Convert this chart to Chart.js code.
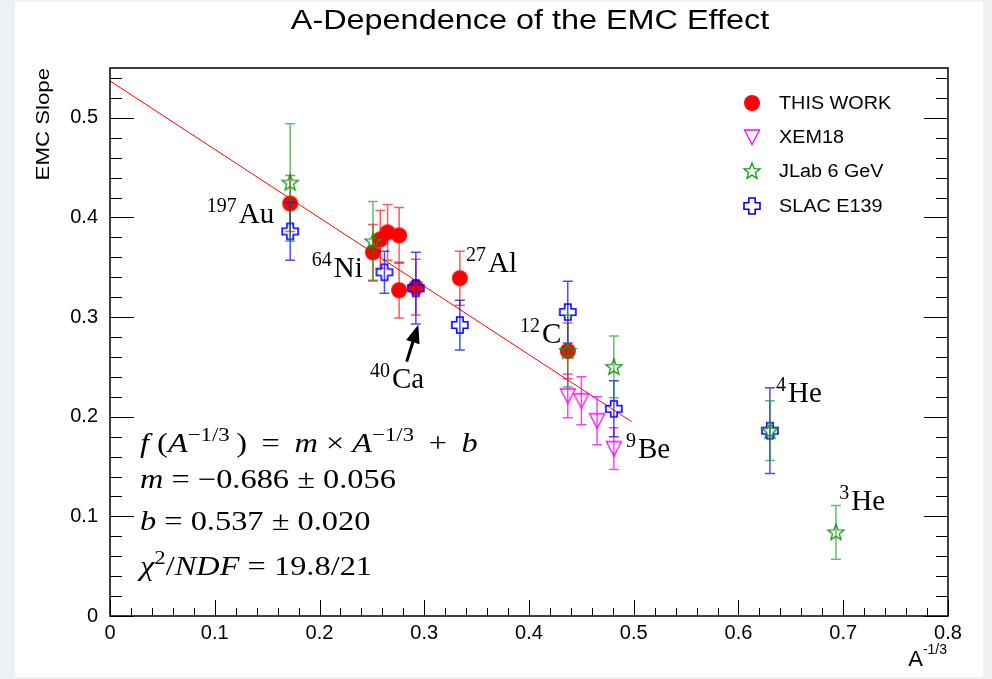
<!DOCTYPE html>
<html>
<head>
<meta charset="utf-8">
<script src="https://cdn.jsdelivr.net/npm/chart.js@4.4.1/dist/chart.umd.min.js"></script>
<style>
  html, body { margin: 0; padding: 0; background: #eef1f4; }
  #panel { position: absolute; left: 15px; top: 2px; width: 968px; height: 675px; background: #fff; }
</style>
</head>
<body>
<div id="panel"><canvas id="emc" width="968" height="675"></canvas></div>
<script>
// series (x = A^-1/3, y = EMC slope, symmetric errors)
var seriesNames = ["THIS WORK", "XEM18", "JLab 6 GeV", "SLAC E139"];

var thisWorkX   = [0.172, 0.251, 0.258, 0.265, 0.276, 0.276, 0.292, 0.334, 0.437];
var thisWorkY   = [0.414, 0.365, 0.378, 0.385, 0.382, 0.327, 0.330, 0.339, 0.266];
var thisWorkErr = [0.028, 0.028, 0.029, 0.028, 0.028, 0.028, 0.028, 0.027, 0.028];

var xemX   = [0.437, 0.450, 0.465, 0.481];
var xemY   = [0.221, 0.216, 0.196, 0.168];
var xemErr = [0.022, 0.024, 0.024, 0.021];

var jlabX   = [0.172, 0.251, 0.437, 0.481, 0.630, 0.693];
var jlabY   = [0.435, 0.376, 0.266, 0.250, 0.186, 0.084];
var jlabErr = [0.059, 0.040, 0.036, 0.031, 0.030, 0.027];

var slacX   = [0.172, 0.262, 0.292, 0.334, 0.437, 0.481, 0.630];
var slacY   = [0.386, 0.345, 0.329, 0.292, 0.305, 0.208, 0.186];
var slacErr = [0.029, 0.021, 0.036, 0.025, 0.031, 0.028, 0.043];

// fit line end points
var fitX = [0, 0.498];
var fitY = [0.537, 0.195];

var xTickVals = [0, 0.1, 0.2, 0.3, 0.4, 0.5, 0.6, 0.7, 0.8];
var yTickVals = [0, 0.1, 0.2, 0.3, 0.4, 0.5];

// nucleus labels (data coords of label start / baseline)
var nucleusLabels = [
  { sup: "197", name: "Au", x: 0.0923, y: 0.3946 },
  { sup: "64",  name: "Ni", x: 0.1926, y: 0.3407 },
  { sup: "27",  name: "Al", x: 0.3399, y: 0.3454 },
  { sup: "12",  name: "C",  x: 0.3914, y: 0.2744 },
  { sup: "40",  name: "Ca", x: 0.2482, y: 0.2286 },
  { sup: "9",   name: "Be", x: 0.4926, y: 0.1586 },
  { sup: "4",   name: "He", x: 0.6358, y: 0.2146 },
  { sup: "3",   name: "He", x: 0.6962, y: 0.1064 }
];
var caArrow = { x0: 0.2832, y0: 0.2553, x1: 0.2943, y1: 0.2922 };

function pts(xs, ys) {
  return xs.map(function(x, i) { return { x: x, y: ys[i] }; });
}

function makeMarker(kind, color) {
  var c = document.createElement('canvas');
  c.width = 20; c.height = 20;
  var g = c.getContext('2d');
  g.strokeStyle = color; g.fillStyle = color; g.lineWidth = 1.3;
  g.beginPath();
  if (kind === 'circle') {
    g.arc(10, 10, 8, 0, 2 * Math.PI);
    g.fill();
    return c;
  } else if (kind === 'triDown') {
    g.moveTo(2.5, 3); g.lineTo(17.5, 3); g.lineTo(10, 17.5); g.closePath();
  } else if (kind === 'star') {
    for (var k = 0; k < 10; k++) {
      var r = k % 2 === 0 ? 8.5 : 3.6;
      var a = -Math.PI / 2 + k * Math.PI / 5;
      var px = 10 + r * Math.cos(a), py = 10.5 + r * Math.sin(a);
      if (k === 0) g.moveTo(px, py); else g.lineTo(px, py);
    }
    g.closePath();
  } else if (kind === 'cross') {
    var h = 3.2, L = 8;
    var p = [[-h,-L],[h,-L],[h,-h],[L,-h],[L,h],[h,h],[h,L],[-h,L],[-h,h],[-L,h],[-L,-h],[-h,-h]];
    p.forEach(function(q, i) { if (i === 0) g.moveTo(10 + q[0], 10 + q[1]); else g.lineTo(10 + q[0], 10 + q[1]); });
    g.closePath();
    g.lineWidth = 1.6;
  }
  g.stroke();
  return c;
}

var mkRed = makeMarker('circle', '#ff0000');
var mkXem = makeMarker('triDown', '#ff00ff');
var mkJlab = makeMarker('star', '#119911');
var mkSlac = makeMarker('cross', '#0000ff');
var legendMarkers = [mkRed, mkXem, mkJlab, mkSlac];

var SANS = "'Liberation Sans', Arial, sans-serif";
var SERIF = "'Liberation Serif', 'Times New Roman', serif";

function stretchText(ctx, text, x, y, sx) {
  ctx.save();
  ctx.translate(x, y);
  ctx.scale(sx, 1);
  ctx.fillText(text, 0, 0);
  ctx.restore();
}

function drawRich(ctx, segs, x, y, size, sx) {
  ctx.save();
  ctx.translate(x, y);
  ctx.scale(sx, 1);
  ctx.textAlign = 'left';
  ctx.textBaseline = 'alphabetic';
  var cx = 0;
  segs.forEach(function(s) {
    var dy = 0;
    if (s[1] === 'i') ctx.font = 'italic ' + size + 'px ' + SERIF;
    else if (s[1] === 'sup') { ctx.font = Math.round(size * 0.72) + 'px ' + SERIF; dy = -size * 0.42; }
    else ctx.font = size + 'px ' + SERIF;
    ctx.fillText(s[0], cx, dy);
    cx += ctx.measureText(s[0]).width;
  });
  ctx.restore();
}

var fitText = [
  [['f', 'i'], [' (', 'r'], ['A', 'i'], ['\u22121/3', 'sup'], ['\u2009) \u2009=\u2009 ', 'r'], ['m', 'i'], [' \u00d7 ', 'r'], ['A', 'i'], ['\u22121/3', 'sup'], [' \u2009+\u2009 ', 'r'], ['b', 'i']],
  [['m', 'i'], [' = \u22120.686 \u00b1 0.056', 'r']],
  [['b', 'i'], [' = 0.537 \u00b1 0.020', 'r']],
  [['\u03c7', 'i'], ['2', 'sup'], ['/', 'r'], ['NDF', 'i'], [' = 19.8/21', 'r']]
];

var rootStyle = {
  id: 'rootStyle',
  beforeDatasetDraw: function(chart, args) {
    var ds = chart.data.datasets[args.index];
    if (!ds.errors) return;
    var ctx = chart.ctx, xs = chart.scales.x, ys = chart.scales.y;
    ctx.save();
    ctx.strokeStyle = ds.barColor;
    ctx.lineWidth = 1.5;
    ds.data.forEach(function(p, i) {
      var px = xs.getPixelForValue(p.x);
      var y1 = ys.getPixelForValue(p.y + ds.errors[i]);
      var y2 = ys.getPixelForValue(p.y - ds.errors[i]);
      ctx.beginPath();
      ctx.moveTo(px, y1); ctx.lineTo(px, y2);
      ctx.moveTo(px - 5, y1); ctx.lineTo(px + 5, y1);
      ctx.moveTo(px - 5, y2); ctx.lineTo(px + 5, y2);
      ctx.stroke();
    });
    ctx.restore();
  },
  afterDraw: function(chart) {
    var ctx = chart.ctx, a = chart.chartArea, xs = chart.scales.x, ys = chart.scales.y;
    ctx.save();
    // frame
    ctx.strokeStyle = '#000';
    ctx.lineWidth = 1.5;
    ctx.strokeRect(a.left, a.top, a.right - a.left, a.bottom - a.top);
    // ticks inside frame
    ctx.lineWidth = 1;
    ctx.beginPath();
    var i, v, p, len;
    for (i = 0; i <= 40; i++) {
      v = i * 0.02;
      p = Math.round(xs.getPixelForValue(v)) + 0.5;
      len = (i % 5 === 0) ? 16 : 8;
      ctx.moveTo(p, a.bottom); ctx.lineTo(p, a.bottom - len);
    }
    for (i = 0; i <= 27; i++) {
      v = i * 0.02;
      p = Math.round(ys.getPixelForValue(v)) + 0.5;
      len = (i % 5 === 0) ? 24 : 12;
      ctx.moveTo(a.left, p); ctx.lineTo(a.left + len, p);
      ctx.moveTo(a.right, p); ctx.lineTo(a.right - len, p);
    }
    ctx.stroke();

    ctx.fillStyle = '#000';
    // title
    ctx.font = '27px ' + SANS;
    ctx.textAlign = 'center';
    ctx.textBaseline = 'alphabetic';
    stretchText(ctx, 'A-Dependence of the EMC Effect', 515, 27, 1.2);

    // y axis title
    ctx.save();
    ctx.translate(34, a.top);
    ctx.rotate(-Math.PI / 2);
    ctx.scale(1.17, 1);
    ctx.font = '19px ' + SANS;
    ctx.textAlign = 'right';
    ctx.fillText('EMC Slope', 0, 0);
    ctx.restore();

    // x axis title A^-1/3
    ctx.textAlign = 'right';
    ctx.font = '14px ' + SANS;
    ctx.fillText('-1/3', a.right - 1, 652);
    var sw = ctx.measureText('-1/3').width;
    ctx.font = '22px ' + SANS;
    ctx.fillText('A', a.right - 1 - sw, 664);

    // legend
    ctx.textAlign = 'left';
    ctx.textBaseline = 'middle';
    ctx.font = '18px ' + SANS;
    var rows = [101, 135, 169, 204];
    seriesNames.forEach(function(name, k) {
      var m = legendMarkers[k];
      ctx.drawImage(m, 737 - m.width / 2, rows[k] - m.height / 2);
      stretchText(ctx, name, 764, rows[k] + 1, 1.1);
    });

    // nucleus labels
    ctx.textBaseline = 'alphabetic';
    nucleusLabels.forEach(function(l) {
      var px = xs.getPixelForValue(l.x), py = ys.getPixelForValue(l.y);
      ctx.font = '20px ' + SERIF;
      ctx.fillText(l.sup, px, py - 11);
      var w = ctx.measureText(l.sup).width;
      ctx.font = '29px ' + SERIF;
      ctx.fillText(l.name, px + w + 2, py);
    });

    // Ca arrow
    var x0 = xs.getPixelForValue(caArrow.x0), y0 = ys.getPixelForValue(caArrow.y0);
    var x1 = xs.getPixelForValue(caArrow.x1), y1 = ys.getPixelForValue(caArrow.y1);
    var ang = Math.atan2(y1 - y0, x1 - x0);
    var hl = 18, hw = 7;
    var bx = x1 - hl * Math.cos(ang), by = y1 - hl * Math.sin(ang);
    ctx.strokeStyle = '#000';
    ctx.lineWidth = 3;
    ctx.beginPath(); ctx.moveTo(x0, y0); ctx.lineTo(bx, by); ctx.stroke();
    ctx.beginPath();
    ctx.moveTo(x1, y1);
    ctx.lineTo(bx + hw * Math.sin(ang), by - hw * Math.cos(ang));
    ctx.lineTo(bx - hw * Math.sin(ang), by + hw * Math.cos(ang));
    ctx.closePath(); ctx.fill();

    // fit result text
    var base = [450, 486, 528, 573];
    fitText.forEach(function(segs, k) {
      drawRich(ctx, segs, 125, base[k], 27, 1.2);
    });
    ctx.restore();
  }
};

new Chart(document.getElementById('emc'), {
  type: 'scatter',
  data: {
    datasets: [
      {
        label: 'fit', type: 'line', data: pts(fitX, fitY),
        borderColor: '#ff0000', borderWidth: 1, pointRadius: 0, fill: false, order: 5
      },
      {
        label: seriesNames[0], data: pts(thisWorkX, thisWorkY), errors: thisWorkErr,
        barColor: 'rgba(255,0,0,0.65)', pointStyle: mkRed, pointRadius: 8, order: 4
      },
      {
        label: seriesNames[1], data: pts(xemX, xemY), errors: xemErr,
        barColor: 'rgba(255,0,255,0.75)', pointStyle: mkXem, pointRadius: 8, order: 3
      },
      {
        label: seriesNames[3], data: pts(slacX, slacY), errors: slacErr,
        barColor: 'rgba(0,0,255,0.7)', pointStyle: mkSlac, pointRadius: 8, order: 2
      },
      {
        label: seriesNames[2], data: pts(jlabX, jlabY), errors: jlabErr,
        barColor: 'rgba(0,150,0,0.6)', pointStyle: mkJlab, pointRadius: 8, order: 1
      }
    ]
  },
  options: {
    responsive: false,
    animation: false,
    layout: { padding: { left: 0, right: 35, top: 66, bottom: 0 } },
    plugins: { legend: { display: false }, title: { display: false }, tooltip: { enabled: false } },
    scales: {
      x: {
        type: 'linear', min: 0, max: 0.8,
        grid: { display: false, drawTicks: false }, border: { display: false },
        afterBuildTicks: function(scale) { scale.ticks = xTickVals.map(function(v) { return { value: v }; }); },
        afterFit: function(scale) { scale.height = 61; },
        ticks: {
          autoSkip: false, maxRotation: 0, padding: 5, color: '#000',
          font: { family: SANS, size: 20 },
          callback: function(v) { return v === 0 ? '0' : v.toFixed(1); }
        }
      },
      y: {
        type: 'linear', min: 0, max: 0.55,
        grid: { display: false, drawTicks: false }, border: { display: false },
        afterBuildTicks: function(scale) { scale.ticks = yTickVals.map(function(v) { return { value: v }; }); },
        afterFit: function(scale) { scale.width = 95; },
        ticks: {
          autoSkip: false, padding: 12, color: '#000',
          font: { family: SANS, size: 20 },
          callback: function(v) { return v === 0 ? '0' : v.toFixed(1); }
        }
      }
    }
  },
  plugins: [rootStyle]
});
</script>
</body>
</html>
